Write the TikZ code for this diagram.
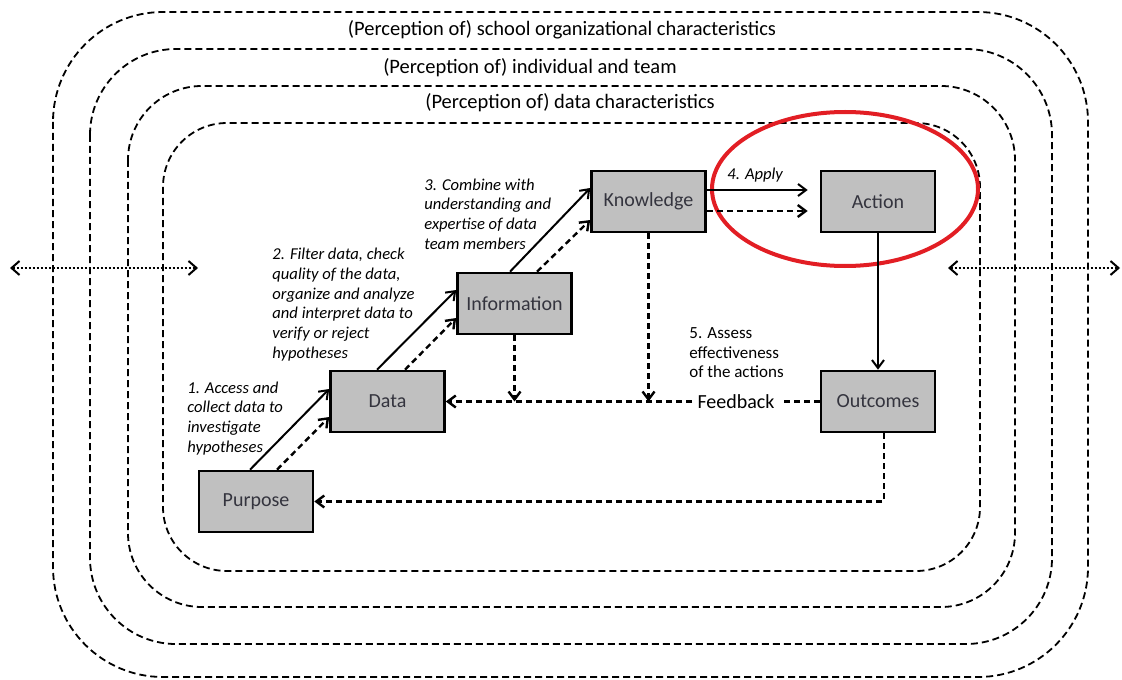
\documentclass[tikz,border=0pt]{standalone}
\usepackage{fontspec}
\setmainfont{Carlito}
\usetikzlibrary{arrows.meta}

\definecolor{boxgray}{RGB}{192,192,192}
\definecolor{boxtext}{RGB}{52,52,62}
\definecolor{ringred}{RGB}{226,30,36}

\tikzset{
  zone/.style={dash pattern=on 3.5pt off 2pt, line width=0.9pt},
  zonelbl/.style={anchor=base, inner sep=0pt, font=\fontsize{10.25}{12}\selectfont},
  box/.style={draw, fill=boxgray, line width=1.3pt, minimum width=57pt,
    minimum height=30.5pt, inner sep=0pt, text=boxtext, font=\fontsize{10}{12}\selectfont},
  note/.style={anchor=base west, align=left, inner sep=0pt, font=\fontsize{8.3}{9.9}\selectfont\itshape},
  flow/.style={-{Straight Barb[length=4pt,width=6pt]}, line width=1pt},
  fb/.style={flow, dash pattern=on 3pt off 2pt, line width=1.2pt},
  reach/.style={{Straight Barb[length=4pt,width=7pt]}-{Straight Barb[length=4pt,width=7pt]},
    densely dotted, line width=1pt}
}

\begin{document}
\begin{tikzpicture}[x=0.5pt, y=-0.5pt]
	\useasboundingbox (0,0) rectangle (1122,679);
	% nested contexts
	\draw [zone, rounded corners=55pt] (53,12) rectangle (1088,677);
	\draw [zone, rounded corners=43pt] (90,49) rectangle (1052,644);
	\draw [zone, rounded corners=37pt] (128,86) rectangle (1015,607);
	\draw [zone, rounded corners=32pt] (163,123) rectangle (980,571);
	\node [zonelbl] (school) at (562,36) {(Perception of) school organizational characteristics};
	\node [zonelbl] (team) at (530,74) {(Perception of) individual and team};
	\node [zonelbl] (datachar) at (570,109) {(Perception of) data characteristics};

	% in and out of the school
	\coordinate (farleft) at (10,268);
	\coordinate (nearleft) at (198,268);
	\coordinate (nearright) at (948,268);
	\coordinate (farright) at (1120,268);
	\draw [reach] (farleft) -- (nearleft);
	\draw [reach] (nearright) -- (farright);

	% steps
	\node [box] (purpose) at (256,501.5) {Purpose};
	\node [box] (data) at (387.5,401.5) {Data};
	\node [box] (info) at (514.5,303.5) {Information};
	\node [box] (knowledge) at (648.5,201.5) {Knowledge};
	\node [box] (action) at (878,201.5) {Action};
	\node [box] (outcomes) at (878,401.5) {Outcomes};

	\draw [ringred, line width=2pt] (845,189) ellipse [x radius=133, y radius=77];

	% upward arrows
	\draw [flow] ([shift={(-6,0)}]purpose.north) -- ([shift={(0,-12.5)}]data.west);
	\draw [fb] ([shift={(21,0)}]purpose.north) -- ([shift={(0,15.5)}]data.west);
	\draw [flow] ([shift={(-10.5,0)}]data.north) -- ([shift={(0,-13.5)}]info.west);
	\draw [fb] ([shift={(17.5,0)}]data.north) -- ([shift={(0,14.5)}]info.west);
	\draw [flow] ([shift={(-4.5,0)}]info.north) -- ([shift={(0,-13.5)}]knowledge.west);
	\draw [fb] ([shift={(22.5,0)}]info.north) -- ([shift={(0,18.5)}]knowledge.west);
	\draw [flow] ([shift={(0,-11.5)}]knowledge.east) -- ([shift={(-12,-11.5)}]action.west);
	\draw [fb] ([shift={(0,9.5)}]knowledge.east) -- ([shift={(-12,9.5)}]action.west);
	\draw [flow] (action.south) -- (outcomes.north);

	% feedback
	\node [inner sep=2.5pt, font=\fontsize{10}{12}\selectfont] (feedback) at (736,401.5) {Feedback};
	\draw [fb, -] (outcomes.west) -- (feedback.east);
	\draw [fb] (feedback.west) -- (data.east);
	\draw [fb] (info.south) -- (info.south |- data.east);
	\draw [fb] (knowledge.south) -- (knowledge.south |- data.east);
	\draw [fb] ([shift={(6,0)}]outcomes.south) |- (purpose.east);

	% step texts (base = last line)
	\node [note] (step1) at (187,452.5) {1. Access and\\collect data to\\investigate\\hypotheses};
	\node [note] (step2) at (272,358.5) {2. Filter data, check\\quality of the data,\\organize and analyze\\and interpret data to\\verify or reject\\hypotheses};
	\node [note] (step3) at (424,249.5) {3. Combine with\\understanding and\\expertise of data\\team members};
	\node [note] (step4) at (727,179) {4. Apply};
	\node [note, font=\fontsize{8.5}{9.75}\selectfont] (step5) at (689,377.5) {5. Assess\\effectiveness\\of the actions};
\end{tikzpicture}
\end{document}
